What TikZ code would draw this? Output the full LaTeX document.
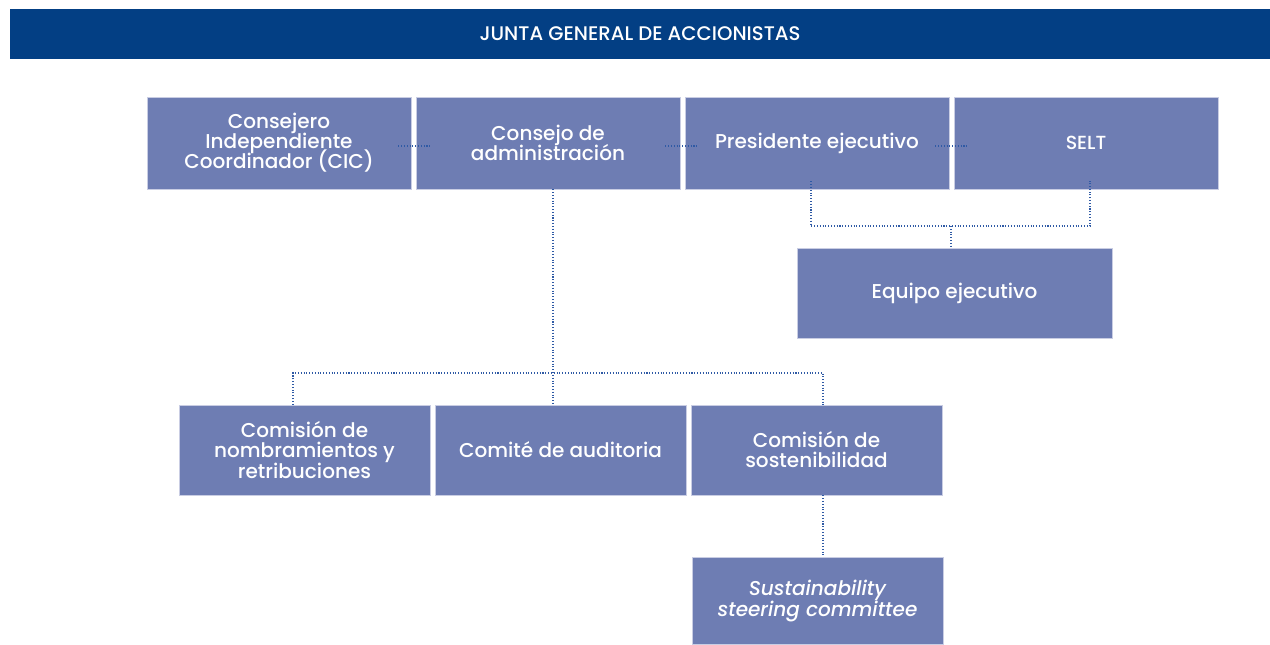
\documentclass[tikz,border=0pt]{standalone}
\usepackage{fontspec}
\setmainfont{Poppins Medium}[ItalicFont={Poppins Medium Italic}]
\usetikzlibrary{positioning}
\definecolor{azul}{HTML}{033F84}
\definecolor{lila}{HTML}{6E7DB3}
\definecolor{borde}{HTML}{C9CDE3}
\definecolor{puntos}{HTML}{2F5AA5}
\newcommand{\letra}{\fontsize{11.4}{11.4}\selectfont\lineskiplimit=-5pt\relax}

\begin{document}
\begin{tikzpicture}[x=0.02cm,y=-0.02cm,
	caja/.style={fill=lila,draw=borde,line width=0.4pt,text=white,align=center,inner sep=0pt,font=\letra},
	arriba/.style={caja,minimum width=5.28cm,minimum height=1.84cm},
	abajo/.style={caja,minimum width=5.02cm,minimum height=1.8cm},
	linea/.style={draw=puntos,densely dotted,line width=0.6pt}]
		\useasboundingbox (0,0) rectangle (1270,645);
		\node[fill=azul,minimum width=25.2cm,minimum height=1cm,inner sep=0pt,text=white,font=\fontsize{11.2}{12}\selectfont] (junta) at (640,34) {JUNTA GENERAL DE ACCIONISTAS};
		% fila de arriba
		\node[arriba] (cic) at (279,143) {Consejero\\Independiente\\Coordinador (CIC)};
		\node[arriba] (consejo) at (548,143) {Consejo de\\administración};
		\node[arriba] (presidente) at (817,143) {Presidente ejecutivo};
		\node[arriba,font=\fontsize{10.8}{12}\selectfont] (selt) at (1086,143) {SELT};
		\node[caja,minimum width=6.3cm,minimum height=1.8cm] (equipo) at (954.5,293) {Equipo ejecutivo};
		% comisiones
		\node[abajo] (nombramientos) at (304.5,450) {Comisión de\\nombramientos y\\retribuciones};
		\node[abajo] (auditoria) at (560.5,450) {Comité de auditoria};
		\node[abajo] (sostenibilidad) at (816.5,450) {Comisión de\\sostenibilidad};
		\node[abajo,minimum height=1.74cm,font=\letra\itshape] (ssc) at (817.5,601) {Sustainability\\steering committee};
		\coordinate (bus) at (553,373);
		\coordinate (izq) at (293,373);
		\coordinate (der) at (823,373);
		\coordinate (pe) at (811,226);
		\coordinate (se) at (1090,226);
		\coordinate (eq) at (951,226);
		\draw[linea] ([xshift=-0.26cm,yshift=-0.06cm]cic.east) -- ([xshift=0.28cm,yshift=-0.06cm]consejo.west);
		\draw[linea] ([xshift=-0.3cm,yshift=-0.06cm]consejo.east) -- ([xshift=0.24cm,yshift=-0.06cm]presidente.west);
		\draw[linea] ([xshift=-0.28cm,yshift=-0.06cm]presidente.east) -- ([xshift=0.28cm,yshift=-0.06cm]selt.west);
		\draw[linea] (bus |- consejo.south) -- (bus |- auditoria.north);
		\draw[linea] (izq |- nombramientos.north) -- (izq) -- (der) -- (der |- sostenibilidad.north);
		\draw[linea] ([yshift=0.16cm]pe |- presidente.south) -- (pe) -- (se) -- ([yshift=0.16cm]se |- selt.south);
		\draw[linea] (eq) -- (eq |- equipo.north);
		\draw[linea] (der |- sostenibilidad.south) -- (der |- ssc.north);
	\end{tikzpicture}
\end{document}
